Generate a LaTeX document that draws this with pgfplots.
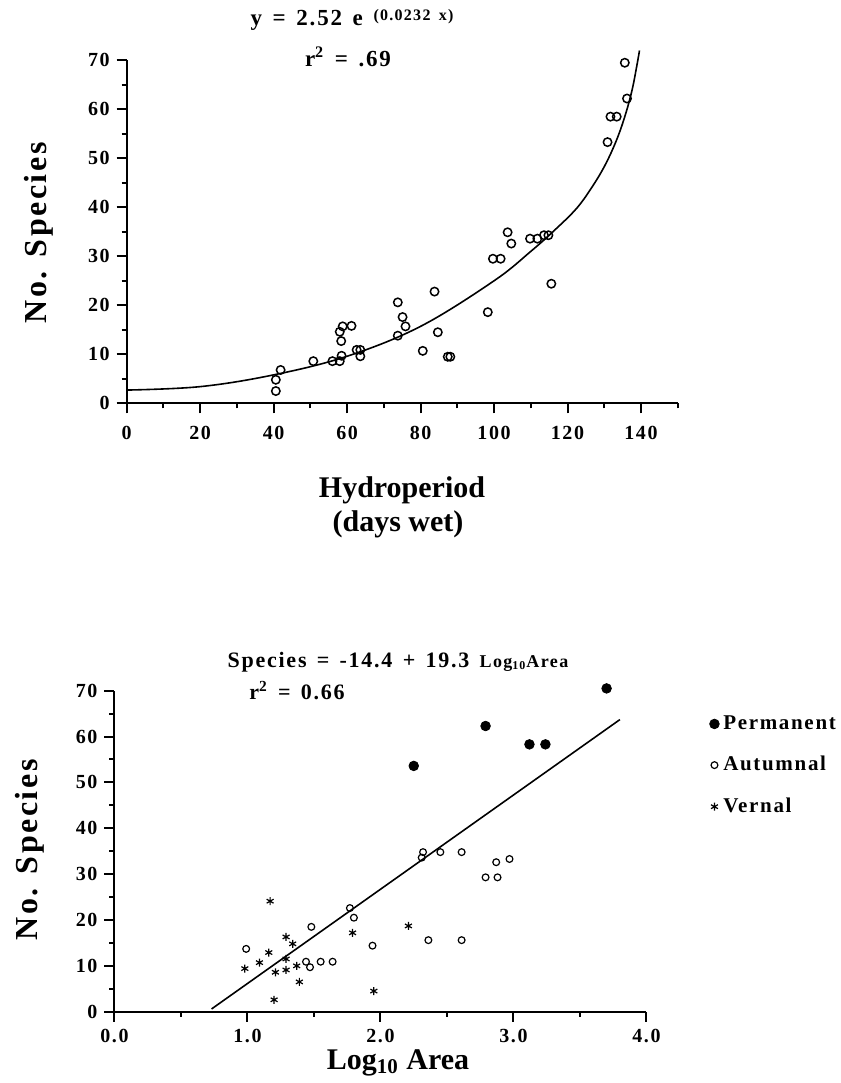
\documentclass[border=0pt]{standalone}
\usepackage{fontspec}
\setmainfont{Liberation Serif}
\newfontfamily\spaced[LetterSpace=8]{Liberation Serif}
\usepackage{pgfplots}
\pgfplotsset{compat=1.18}

\pgfplotsset{
  oldstyle/.style={
    scale only axis, axis lines=left,
    axis line style={-, line width=1pt},
    tick align=outside, major tick length=5pt, minor tick length=2.5pt,
    every tick/.style={black, line width=1pt},
    clip=false,
    ticklabel style={font=\spaced\bfseries\fontsize{10}{10}\selectfont},
  }
}
\newcommand{\gap}{\ \hspace{1.5pt}}

\begin{document}
\begin{tikzpicture}
\useasboundingbox (0,0) rectangle (420.5pt,541.5pt);

% ---- top: hydroperiod ----
\begin{axis}[oldstyle,
  at={(63.35pt,339.85pt)}, anchor=south west,
  width=275.5pt, height=171.5pt,
  xmin=0, xmax=150, ymin=0, ymax=70,
  xtick={0,20,40,60,80,100,120,140},
  xticklabels={0,20,40,60,80,100,120,140},
  minor xtick={10,30,50,70,90,110,130,150},
  ytick={0,10,20,30,40,50,60,70},
  yticklabels={0,10,20,30,40,50,60,70},
  minor ytick={5,15,25,35,45,55,65},
  xticklabel style={yshift=-3pt},
]
\addplot[smooth, tension=0.6, line width=0.8pt] coordinates {
  (0,2.7)(20,3.4)(40,5.8)(60,9.6)(80,15.7)(100,25.0)(110,31.0)
  (116.3,35.2)(122.5,39.8)(127,44.5)(130.5,49)(133.5,54)(135.8,59)
  (137.6,64)(138.9,69)(139.6,72)};
\addplot[only marks, mark=o, mark size=2.1pt, mark options={line width=0.75pt}]
  coordinates {
  (40.6,2.5)(40.6,4.8)(41.9,6.8)(50.8,8.6)(56.0,8.6)(58.0,8.6)(58.5,9.7)
  (58.4,12.7)(58.0,14.6)(58.8,15.7)(61.2,15.8)(62.6,10.9)(63.6,10.9)(63.6,9.6)
  (73.8,13.8)(73.8,20.6)(75.1,17.6)(75.9,15.7)
  (83.8,22.8)(84.7,14.5)(80.6,10.7)(87.4,9.5)(88.1,9.5)(98.3,18.6)
  (99.7,29.5)(101.8,29.5)(103.7,34.9)(104.7,32.6)(109.8,33.6)(111.8,33.6)
  (113.6,34.3)(114.8,34.3)(115.6,24.4)
  (130.9,53.3)(131.7,58.5)(133.4,58.5)(136.2,62.2)(135.6,69.5)};
\end{axis}

\node[font=\spaced\bfseries\fontsize{11.5}{11.5}\selectfont] at (176pt,531.5pt)
  {y\gap=\gap2.52\gap e\gap\raisebox{2.5pt}{\fontsize{8}{8}\selectfont (0.0232\gap x)}};
\node[font=\spaced\bfseries\fontsize{11.5}{11.5}\selectfont] at (174pt,513pt)
  {r\textsuperscript{2}\gap=\gap.69};
\node[rotate=90, font=\spaced\bfseries\fontsize{16}{16}\selectfont] at (19.5pt,425pt)
  {No. Species};
\node[font=\bfseries\fontsize{15}{15}\selectfont] at (201pt,296.5pt) {Hydroperiod};
\node[font=\bfseries\fontsize{15}{15}\selectfont] at (199pt,279.5pt) {(days wet)};

% ---- bottom: area ----
\begin{axis}[oldstyle,
  at={(57.25pt,35.65pt)}, anchor=south west,
  width=266pt, height=160.5pt,
  xmin=0, xmax=4, ymin=0, ymax=70,
  xtick={0,1,2,3,4},
  xticklabels={0.0,1.0,2.0,3.0,4.0},
  minor xtick={0.5,1.5,2.5,3.5},
  ytick={0,10,20,30,40,50,60,70},
  yticklabels={0,10,20,30,40,50,60,70},
  minor ytick={5,15,25,35,45,55,65},
  legend style={at={(1.118,0.93)}, anchor=north west, draw=none, fill=none,
    font=\spaced\bfseries\fontsize{10.5}{10.5}\selectfont,
    row sep=10pt, inner sep=0pt,
    nodes={inner sep=1pt}},
  legend cell align=left,
]
\addplot[line width=0.8pt, forget plot] coordinates {(0.73,0.6)(3.80,63.7)};
\addplot[only marks, mark=*, mark size=2.4pt] coordinates {
  (2.25,53.6)(2.79,62.3)(3.12,58.3)(3.24,58.3)(3.70,70.5)};
\addlegendentry{\hspace{1pt}Permanent}
\addplot[only marks, mark=o, mark size=1.7pt, mark options={line width=0.6pt}]
  coordinates {
  (0.99,13.7)(1.48,18.5)(1.44,10.9)(1.47,9.7)(1.55,10.9)(1.64,10.9)
  (1.77,22.6)(1.80,20.5)(1.94,14.4)(2.36,15.6)(2.61,15.6)(2.79,29.3)
  (2.88,29.3)(2.87,32.6)(2.97,33.3)(2.32,34.8)(2.31,33.6)(2.45,34.8)(2.61,34.8)};
\addlegendentry{\hspace{1pt}Autumnal}
\addplot[only marks, mark=asterisk, mark size=2pt, mark options={line width=0.6pt}]
  coordinates {
  (1.17,24.1)(0.98,9.4)(1.09,10.7)(1.16,12.9)(1.29,16.3)(1.34,14.8)
  (1.29,11.5)(1.21,8.6)(1.29,9.1)(1.37,10.0)(1.39,6.5)(1.20,2.6)
  (1.79,17.2)(2.21,18.7)(1.95,4.5)};
\addlegendentry{\hspace{1pt}Vernal}
\end{axis}

\node[font=\spaced\bfseries\fontsize{11}{11}\selectfont] at (199pt,210.5pt)
  {Species\gap=\gap-14.4\gap+\gap19.3\gap{\fontsize{9}{9}\selectfont Log\textsubscript{10}Area}};
\node[font=\spaced\bfseries\fontsize{11}{11}\selectfont] at (148.5pt,196pt)
  {r\textsuperscript{2}\gap=\gap0.66};
\node[rotate=90, font=\spaced\bfseries\fontsize{16}{16}\selectfont] at (15pt,116.5pt)
  {No. Species};
\node[font=\bfseries\fontsize{15}{15}\selectfont] at (199pt,10pt)
  {Log\textsubscript{10} Area};
\end{tikzpicture}
\end{document}
